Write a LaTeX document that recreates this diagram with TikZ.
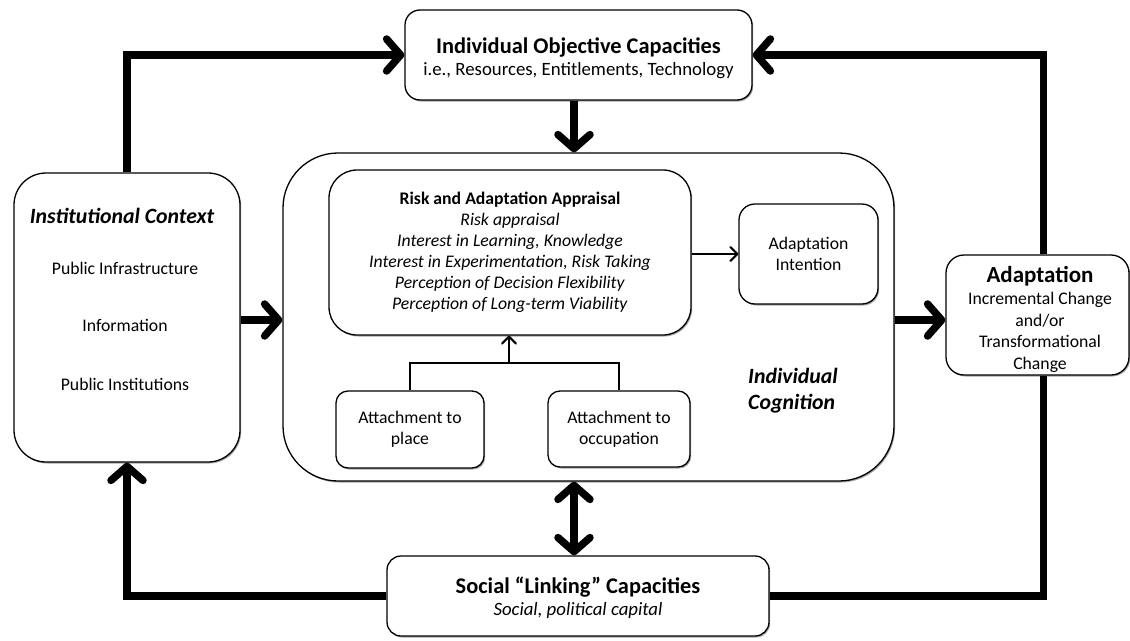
\documentclass[tikz,border=0pt]{standalone}
\usepackage{fontspec}
\setmainfont{Carlito}
\usetikzlibrary{arrows.meta,shadows}
\begin{document}
\begin{tikzpicture}[x=1pt,y=-1pt,
  box/.style={draw=black,line width=1.3pt,fill=white,rounded corners=#1,
    drop shadow={shadow xshift=1.2pt,shadow yshift=-1.5pt,fill=black,opacity=0.35},
    align=center,inner sep=0pt},
  box/.default=14pt,
  bigarrow/.style={line width=7.5pt,-{Straight Barb[round,length=14pt,width=32pt]}},
  bigline/.style={line width=7.5pt},
  bigdouble/.style={line width=7.5pt,{Straight Barb[round,length=14pt,width=32pt]}-{Straight Barb[round,length=14pt,width=32pt]}},
  smallarrow/.style={line width=2pt,-{Straight Barb[round,length=7pt,width=14pt]}},
  smallline/.style={line width=2.2pt},
  txt/.style={font=\fontsize{17.7}{21}\selectfont,inner sep=0pt,align=center}
]
\useasboundingbox (0,0) rectangle (1130,640);
\fill[white] (0,0) rectangle (1130,640);

% boxes
\node[box=15pt,minimum width=347pt,minimum height=90pt] (obj) at (578.5,55) {};
\node[txt,font=\fontsize{22.4}{24}\selectfont\bfseries] (objt) at (578.5,48) {Individual Objective Capacities};
\node[txt,font=\fontsize{18.8}{22}\selectfont] (objs) at (578.5,71) {i.e., Resources, Entitlements, Technology};

\node[box=32pt,minimum width=226pt,minimum height=289pt] (inst) at (127,317.5) {};
\node[txt,font=\fontsize{21.8}{24}\selectfont\bfseries\itshape] (instt) at (122,216) {Institutional Context};
\node[txt] (inst1) at (125,268) {Public Infrastructure};
\node[txt] (inst2) at (125,325) {Information};
\node[txt] (inst3) at (125,384) {Public Institutions};

\node[box=55pt,minimum width=611pt,minimum height=328pt] (cog) at (588.5,317) {};
\node[txt,font=\fontsize{21.8}{26}\selectfont\bfseries\itshape,align=left,anchor=north west] (cogt) at (748,368) {Individual\\Cognition};

\node[box=28pt,minimum width=362pt,minimum height=165pt,font=\fontsize{17.7}{21}\selectfont] (risk) at (510,252.5)
  {\textbf{Risk and Adaptation Appraisal}\\ \textit{Risk appraisal}\\ \textit{Interest in Learning, Knowledge}\\ \textit{Interest in Experimentation, Risk Taking}\\ \textit{Perception of Decision Flexibility}\\ \textit{Perception of Long-term Viability}};

\node[box=16pt,minimum width=139pt,minimum height=100pt,font=\fontsize{17.7}{21}\selectfont] (int) at (808.5,254) {Adaptation\\Intention};

\node[box=12pt,minimum width=148pt,minimum height=77pt,font=\fontsize{17.7}{21}\selectfont] (place) at (410,429.5) {Attachment to\\place};
\node[box=12pt,minimum width=142pt,minimum height=76pt,font=\fontsize{17.7}{21}\selectfont] (occ) at (619,429) {Attachment to\\occupation};

\node[box=18pt,minimum width=183pt,minimum height=120pt] (adapt) at (1037.5,315) {};
\node[txt,font=\fontsize{17.7}{21.5}\selectfont] (adaptt) at (1040,319)
  {{\fontsize{23}{24}\selectfont\bfseries Adaptation}\\[1pt] Incremental Change\\ and/or\\ Transformational\\ Change};

\node[box=14pt,minimum width=382pt,minimum height=80pt] (soc) at (578,596) {};
\node[txt,font=\fontsize{22.4}{24}\selectfont\bfseries] (soct) at (578,587) {Social “Linking” Capacities};
\node[txt,font=\fontsize{18.8}{22}\selectfont\itshape] (socs) at (578,610) {Social, political capital};

% helper coordinates
\coordinate (ox) at (574,0);
\coordinate (my) at (0,320);
\coordinate (j) at (509,363);

% thick connectors
\draw[bigarrow] (inst.north) |- (obj.west);
\draw[bigarrow] ([xshift=6pt]adapt.north) |- (obj.east);
\draw[bigarrow] (obj.south -| ox) -- (cog.north -| ox);
\draw[bigarrow] (inst.east |- my) -- (cog.west |- my);
\draw[bigarrow] (cog.east |- my) -- (adapt.west |- my);
\draw[bigdouble] (soc.north -| ox) -- (cog.south -| ox);
\draw[bigarrow] (soc.west) -| (inst.south);
\draw[bigline] ([xshift=6pt]adapt.south) |- (soc.east);

% thin connectors
\draw[smallarrow] (risk.east |- int.west) -- (int.west);
\draw[smallline] (place.north) |- (j) -| (occ.north);
\draw[smallarrow] (j) -- (risk.south -| j);
\end{tikzpicture}
\end{document}
